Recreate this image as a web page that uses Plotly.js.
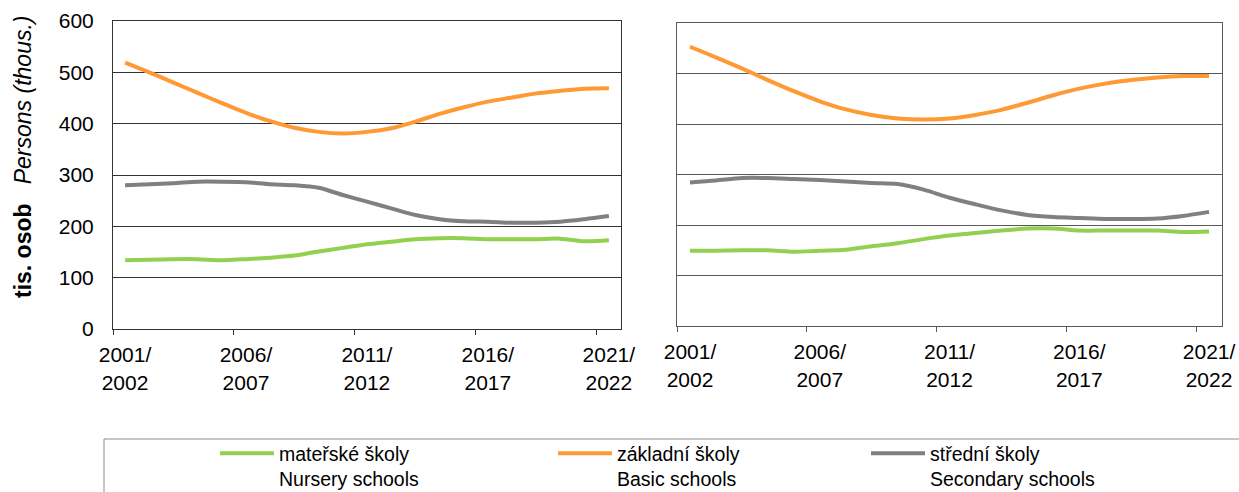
<!DOCTYPE html>
<html><head><meta charset="utf-8">
<script src="https://cdn.plot.ly/plotly-3.0.1.min.js"></script>
<style>html,body{margin:0;padding:0;background:#fff}#chart{width:1239px;height:492px}</style>
</head><body><div id="chart"></div>
<script>
const years = ["2001/02","2002/03","2003/04","2004/05","2005/06","2006/07","2007/08","2008/09","2009/10","2010/11",
  "2011/12","2012/13","2013/14","2014/15","2015/16","2016/17","2017/18","2018/19","2019/20","2020/21","2021/22"];
const tickLabels = ["2001/<br>2002","2006/<br>2007","2011/<br>2012","2016/<br>2017","2021/<br>2022"];
const tickPositions = [-0.5, 4.5, 9.5, 14.5, 19.5];
const yTicks = [0,100,200,300,400,500,600];

const seriesNames = ["mateřské školy<br>Nursery schools","základní školy<br>Basic schools","střední školy<br>Secondary schools"];
const seriesColors = ["#92D050","#FF9933","#808080"];

const leftNursery   = [134,135,136,136,134,136,139,143,151,158,165,170,175,177,177,175,175,175,176,171,173];
const leftBasic     = [519,500,480,460,440,421,405,392,384,381,384,391,404,419,432,443,451,459,464,468,469];
const leftSecondary = [280,282,284,287,287,286,282,280,275,261,248,235,222,214,210,209,207,207,209,214,220];

const rightNursery   = [149,149,150,150,147,149,151,158,164,172,179,184,189,193,193,189,189,189,189,186,187];
const rightBasic     = [553,532,510,487,465,445,429,418,411,409,411,418,428,442,457,470,480,487,492,495,495];
const rightSecondary = [284,288,293,293,291,289,286,283,281,270,254,241,229,220,216,214,212,212,213,218,226];

const xIdx = years.map((_, i) => i);
const FONT = "Liberation Sans, Arial, sans-serif";

function mk(y, k, xa, ya, show) {
  return {
    x: xIdx, y: y, type: "scatter", mode: "lines",
    name: seriesNames[k], text: years, hoverinfo: "text+y",
    line: {color: seriesColors[k], width: 4, shape: "spline", smoothing: 0.8},
    xaxis: xa, yaxis: ya, showlegend: show,
    legend: ["legend","legend2","legend3"][k]
  };
}

const data = [
  mk(leftNursery,0,"x","y",true), mk(leftBasic,1,"x","y",true), mk(leftSecondary,2,"x","y",true),
  mk(rightNursery,0,"x2","y2",false), mk(rightBasic,1,"x2","y2",false), mk(rightSecondary,2,"x2","y2",false)
];

function xax(domain, anchor, col, shift) {
  return {
    domain: domain, anchor: anchor, type: "linear", range: [-0.5, 20.5],
    tickmode: "array", tickvals: tickPositions, ticktext: tickLabels,
    ticks: "outside", ticklen: 5, tickcolor: col, tickwidth: 1,
    ticklabelshift: shift, ticklabelstandoff: 2,
    showline: true, linecolor: col, linewidth: 1, mirror: true,
    showgrid: false, zeroline: false,
    tickfont: {family: FONT, size: 21, color: "#000"}
  };
}
function yax(domain, anchor, col, labels) {
  return {
    domain: domain, anchor: anchor, range: [0, 600],
    tickmode: "array", tickvals: yTicks,
    showticklabels: labels, ticks: "", ticklabelstandoff: 14,
    showline: true, linecolor: col, linewidth: 1, mirror: true,
    showgrid: true, gridcolor: col, gridwidth: 1, zeroline: false,
    tickfont: {family: FONT, size: 21, color: "#000"}
  };
}
function leg(xpx) {
  return {
    orientation: "h", x: xpx/1239, xanchor: "left", y: (492-434)/492, yanchor: "top",
    bgcolor: "rgba(0,0,0,0)", borderwidth: 0, itemwidth: 54, valign: "top",
    font: {family: FONT, size: 19.5, color: "#000"}
  };
}

const layout = {
  width: 1239, height: 492, autosize: false,
  margin: {l: 0, r: 0, t: 0, b: 0, autoexpand: false},
  paper_bgcolor: "#fff", plot_bgcolor: "#fff",
  font: {family: FONT, size: 21, color: "#000"},
  xaxis: xax([113/1239, 621/1239], "y", "#333", 12),
  yaxis: yax([(492-329)/492, (492-21)/492], "x", "#333", true),
  xaxis2: xax([677/1239, 1222/1239], "y2", "#5a5a5a", 13),
  yaxis2: yax([(492-326)/492, (492-23)/492], "x2", "#5a5a5a", false),
  legend: leg(215), legend2: leg(553), legend3: leg(866),
  shapes: [{type: "rect", xref: "paper", yref: "paper",
    x0: 104/1239, x1: 1.02, y0: -0.05, y1: (492-439)/492,
    line: {color: "#8c8c8c", width: 1}, fillcolor: "rgba(0,0,0,0)", layer: "below"}],
  annotations: [{
    xref: "paper", yref: "paper", x: 23/1239, y: (492-157)/492,
    xanchor: "center", yanchor: "middle", textangle: -90, showarrow: false,
    text: "<b>tis. osob</b>\u00a0\u00a0\u00a0<i>Persons (thous.)</i>",
    font: {family: FONT, size: 23, color: "#000"}
  }]
};

Plotly.newPlot("chart", data, layout, {staticPlot: true, displayModeBar: false});
</script></body></html>
